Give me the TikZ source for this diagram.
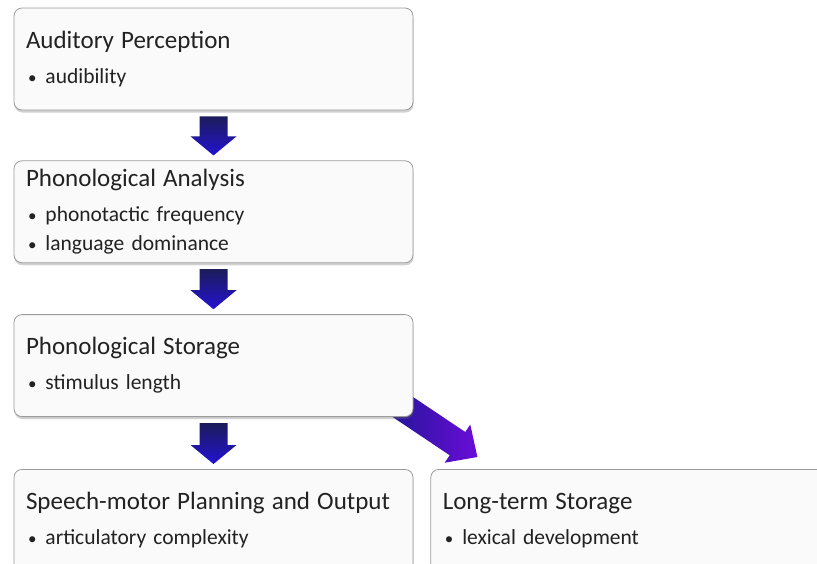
\documentclass[tikz,border=0pt]{standalone}
\usepackage{fontspec}
\setmainfont{Carlito}
\usetikzlibrary{positioning,calc,shadows,backgrounds}
\definecolor{boxline}{HTML}{9C9C9C}
\definecolor{boxfill}{HTML}{FAFAFA}
\definecolor{txtgrey}{HTML}{222222}
\definecolor{navytop}{HTML}{1C1C5A}
\definecolor{bluebot}{HTML}{2312D2}
\definecolor{violettip}{HTML}{6A0CD8}
\tikzset{
  stagebox/.style={rectangle,rounded corners=8pt,draw=boxline,fill=boxfill,line width=0.8pt,
    text width=375pt,inner xsep=12pt,minimum height=102pt,align=left,text=txtgrey,
    font=\fontsize{21.5}{29}\selectfont,
    drop shadow={shadow xshift=0.5pt,shadow yshift=-2.5pt,opacity=0.3,fill=black!60}},
  downshade/.style={top color=navytop,bottom color=bluebot},
  sideshade/.style={left color=navytop!50!bluebot,right color=violettip},
}
\newcommand{\stitle}[1]{{\fontsize{25}{29}\selectfont #1}}
\newcommand{\bitem}[1]{\hspace*{2pt}{\fontsize{17}{29}\selectfont\textbullet}\hspace{9pt}#1}
% block arrow: shading, tail, tip, head length
\newcommand{\fatarrow}[4]{%
  \coordinate (fb) at ($(#3)!#4!(#2)$);
  \shade[#1] ($(#2)!14pt!90:(#3)$) -- ($(fb)!14pt!90:(#3)$) -- ($(fb)!23pt!90:(#3)$)
    -- (#3) -- ($(fb)!23pt!-90:(#3)$) -- ($(fb)!14pt!-90:(#3)$)
    -- ($(#2)!14pt!-90:(#3)$) -- cycle;}

\begin{document}
\begin{tikzpicture}[x=1pt,y=-1pt]
  \useasboundingbox (0,0) rectangle (817,563);
  \clip (0,0) rectangle (817,563);
  \node[stagebox] (nAud) at (213.5,59) {\stitle{Auditory Perception}\\[6pt]\bitem{audibility}};
  \node[stagebox,below=50pt of nAud] (nPhA) {\stitle{Phonological Analysis}\\[6pt]\bitem{phonotactic frequency}\\\bitem{language dominance}};
  \node[stagebox,below=51pt of nPhA] (nPhS) {\stitle{Phonological Storage}\\[6pt]\bitem{stimulus length}};
  \node[stagebox,below=52pt of nPhS] (nSpm) {\stitle{Speech-motor Planning and Output}\\[6pt]\bitem{articulatory complexity}};
  \node[stagebox,right=17pt of nSpm] (nLts) {\stitle{Long-term Storage}\\[6pt]\bitem{lexical development}};
  \begin{scope}[on background layer]
    \coordinate (t1) at ($(nAud.south)+(0,6)$);
    \coordinate (h1) at ($(nPhA.north)+(0,-5)$);
    \coordinate (t2) at ($(nPhA.south)+(0,6)$);
    \coordinate (h2) at ($(nPhS.north)+(0,-5)$);
    \coordinate (t3) at ($(nPhS.south)+(0,6)$);
    \coordinate (h3) at ($(nSpm.north)+(0,-5)$);
    \coordinate (t4) at ($(nPhS.south east)+(-21,-17)$);
    \coordinate (h4) at ($(nLts.north west)+(47,-12)$);
    \fatarrow{downshade}{t1}{h1}{19pt}
    \fatarrow{downshade}{t2}{h2}{19pt}
    \fatarrow{downshade}{t3}{h3}{19pt}
    \fatarrow{sideshade}{t4}{h4}{24pt}
  \end{scope}
\end{tikzpicture}
\end{document}
